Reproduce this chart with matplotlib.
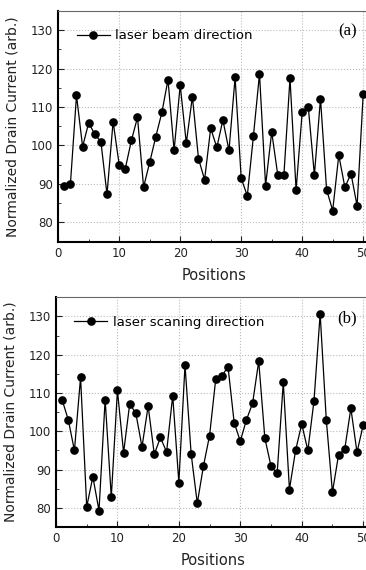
import matplotlib
matplotlib.use("Agg")
import matplotlib.pyplot as plt
from matplotlib.ticker import MultipleLocator

positions = list(range(1, 51))

beam = [89.4, 89.9, 113.0, 99.7, 105.9, 102.9, 101.0, 87.3, 106.2, 95.0,
        94.0, 101.3, 107.3, 89.2, 95.6, 102.3, 108.6, 117.1, 98.7, 115.7,
        100.6, 112.7, 96.6, 91.1, 104.5, 99.5, 106.6, 98.7, 117.7, 91.5,
        86.9, 102.4, 118.6, 89.6, 103.5, 92.3, 92.3, 117.5, 88.4, 108.7,
        110.0, 92.3, 112.2, 88.5, 83.1, 97.5, 89.1, 92.7, 84.3, 113.3]

scan = [108.2, 103.0, 95.0, 114.1, 80.3, 88.1, 79.3, 108.3, 82.8, 110.7,
        94.4, 107.2, 104.7, 95.9, 106.6, 94.0, 98.4, 94.6, 109.3, 86.6,
        117.3, 94.1, 81.2, 90.9, 98.9, 113.6, 114.4, 116.9, 102.3, 97.4,
        103.0, 107.3, 118.3, 98.2, 90.9, 89.0, 112.8, 84.8, 95.0, 101.9,
        95.0, 108.0, 130.7, 103.0, 84.1, 93.9, 95.3, 106.0, 94.5, 101.6]

fig = plt.figure(figsize=(3.66, 5.70), dpi=100)
ax1 = fig.add_axes([0.159, 0.576, 0.85, 0.405])
ax2 = fig.add_axes([0.153, 0.0754, 0.856, 0.403])

panels = [(ax1, beam, "laser beam direction", "(a)"),
          (ax2, scan, "laser scaning direction", "(b)")]

for ax, vals, name, tag in panels:
    ax.plot(positions, vals, color="black", lw=0.9, marker="o", ms=5.2,
            label=name)
    ax.set_xlim(0, 51)
    ax.set_ylim(75, 135)
    ax.xaxis.set_major_locator(MultipleLocator(10))
    ax.xaxis.set_minor_locator(MultipleLocator(5))
    ax.yaxis.set_major_locator(MultipleLocator(10))
    ax.yaxis.set_minor_locator(MultipleLocator(5))
    ax.set_yticks([80, 90, 100, 110, 120, 130])
    ax.grid(True, which="major", ls=":", color="#bbbbbb", lw=0.8)
    ax.tick_params(which="both", direction="in", labelsize=8.5,
                   colors="#222222")
    ax.tick_params(which="major", length=4)
    ax.tick_params(which="minor", length=2.5)
    for s in ["left", "bottom"]:
        ax.spines[s].set_linewidth(1.5)
    ax.spines["top"].set_color("#666666")
    ax.set_xlabel("Positions", fontsize=10.5, labelpad=6, color="#222222")
    ax.set_ylabel("Normalized Drain Current (arb.)", fontsize=10,
                  labelpad=8, color="#222222")
    ax.legend(loc="upper left", frameon=False, fontsize=9.5,
              handlelength=2.5, borderaxespad=1.0, handletextpad=0.4)
    ax.text(0.93, 0.91, tag, transform=ax.transAxes, ha="center",
            va="center", fontsize=12, family="Liberation Serif")

fig.savefig("out.png", dpi=100)
